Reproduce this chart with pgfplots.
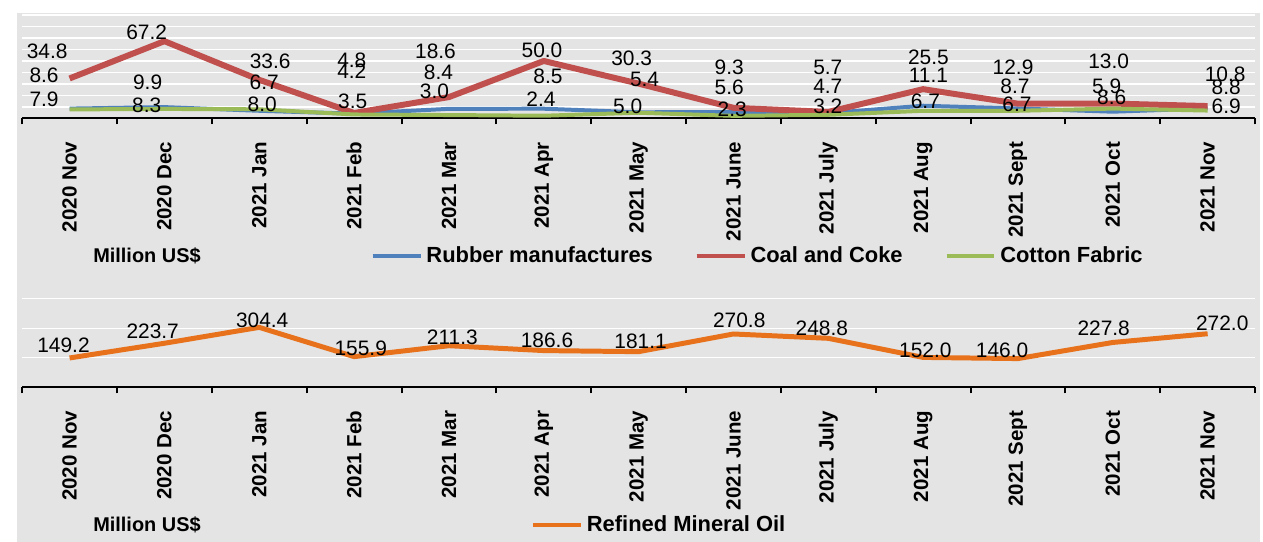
\documentclass[border=0pt]{standalone}
\usepackage{pgfplots}
\pgfplotsset{compat=1.18}
\usepackage{pgfplotstable}
\usepackage{fontspec}
\setmainfont{Liberation Sans}
\definecolor{panel}{HTML}{E4E4E4}
\definecolor{rubber}{HTML}{4F81BD}
\definecolor{coal}{HTML}{C0504D}
\definecolor{cotton}{HTML}{9BBB59}
\definecolor{oil}{HTML}{E8721C}

\pgfplotstableread{
x rubber coal cotton oil
0 8.6 34.8 7.9 149.2
1 9.9 67.2 8.3 223.7
2 6.7 33.6 8.0 304.4
3 4.2 4.8 3.5 155.9
4 8.4 18.6 3.0 211.3
5 8.5 50.0 2.4 186.6
6 5.4 30.3 5.0 181.1
7 5.6 9.3 2.3 270.8
8 4.7 5.7 3.2 248.8
9 11.1 25.5 6.7 152.0
10 8.7 12.9 6.7 146.0
11 5.9 13.0 8.6 227.8
12 8.8 10.8 6.9 272.0
}\datatable

\pgfplotstableread{
x y lab
-0.237 58.0 34.8
-0.269 37.2 8.6
-0.269 16.4 7.9
0.813 75.3 67.2
0.823 31.1 9.9
0.813 11.2 8.3
2.115 49.3 33.6
2.052 31.1 6.7
2.031 12.1 8.0
2.976 51.0 4.8
2.976 40.7 4.2
2.986 14.7 3.5
3.858 58.0 18.6
3.889 39.8 8.4
3.847 23.4 3.0
4.981 59.7 50.0
5.044 36.3 8.5
4.971 16.4 2.4
5.927 51.9 30.3
6.063 33.7 5.4
5.884 10.4 5.0
6.956 44.1 9.3
6.956 26.8 5.6
6.987 7.8 2.3
7.995 44.1 5.7
7.995 27.7 4.7
7.995 10.4 3.2
9.056 52.8 25.5
9.056 37.2 11.1
9.024 14.7 6.7
9.948 44.1 12.9
9.969 27.7 8.7
9.990 12.1 6.7
10.956 49.3 13.0
10.935 27.7 5.9
10.988 18.2 8.6
12.185 38.1 10.8
12.196 26.8 8.8
12.196 10.4 6.9
}\toplabels

\pgfplotstableread{
x y lab
-0.064 212 149.2
0.876 283 223.7
2.031 338 304.4
3.070 197 155.9
4.036 253 211.3
5.034 237 186.6
6.021 232 181.1
7.061 338 270.8
7.932 298 248.8
9.024 187 152.0
9.833 187 146.0
10.904 298 227.8
12.154 323 272.0
}\botlabels

\pgfplotsset{
  panelaxis/.style={
    scale only axis, width=619pt,
    xmin=-0.5, xmax=12.5, ymin=0,
    axis x line*=bottom, axis y line*=left,
    y axis line style={draw=none},
    x axis line style={-, black, line width=1pt},
    xtick={0,...,12},
    xticklabels={2020 Nov,2020 Dec,2021 Jan,2021 Feb,2021 Mar,2021 Apr,2021 May,2021 June,2021 July,2021 Aug,2021 Sept,2021 Oct,2021 Nov},
    major x tick style={draw=none},
    minor xtick={-0.5,0.5,...,12.5},
    minor x tick style={black, line width=1pt},
    minor tick length=3pt,
    tick align=outside,
    xticklabel style={rotate=90, anchor=east, font=\bfseries\fontsize{10.3}{12}\selectfont},
    xticklabel shift=4pt,
    yticklabels={}, major y tick style={draw=none},
    ymajorgrids, grid style={white, line width=0.6pt},
    clip=false,
    legend style={draw=none, fill=none, inner sep=0pt, outer sep=0pt,
      font=\bfseries\fontsize{11}{13}\selectfont,
      /tikz/every even column/.append style={column sep=19pt}},
    legend cell align=left,
    legend image code/.code={\draw[#1, line width=2pt] (0pt,0pt) -- (24pt,0pt);},
  },
  labelplot/.style={only marks, mark=none, nodes near coords, point meta=explicit symbolic,
    nodes near coords style={anchor=center, inner sep=0pt, text=black, font=\fontsize{10.5}{12}\selectfont},
    forget plot},
}

\begin{document}
\begin{tikzpicture}
\fill[white] (0pt,0pt) rectangle (631.5pt,272pt);
\fill[panel] (6pt,0pt) rectangle (630pt,265.5pt);

\begin{axis}[panelaxis, at={(8.5pt,212.5pt)}, anchor=south west,
  height=52pt, ymax=90, ytick={0,10,...,90},
  legend columns=3,
  legend style={at={(0.2827,-1.327)}, anchor=west}]
\addplot[rubber, line width=2pt, line join=round] table[x=x, y=rubber] {\datatable};
\addlegendentry{Rubber manufactures}
\addplot[coal, line width=3pt, line join=round] table[x=x, y=coal] {\datatable};
\addlegendentry{Coal and Coke}
\addplot[cotton, line width=2pt, line join=round] table[x=x, y=cotton] {\datatable};
\addlegendentry{Cotton Fabric}
\addplot[labelplot] table[x=x, y=y, meta=lab] {\toplabels};
\end{axis}

\begin{axis}[panelaxis, at={(8.5pt,77.5pt)}, anchor=south west,
  height=49.5pt, ymax=500, ytick={0,150,300,450},
  legend style={at={(0.4128,-1.394)}, anchor=west}]
\addplot[oil, line width=2.5pt, line join=round] table[x=x, y=oil] {\datatable};
\addlegendentry{Refined Mineral Oil}
\addplot[labelplot] table[x=x, y=y, meta=lab] {\botlabels};
\end{axis}

\node[anchor=west, inner sep=0pt, font=\bfseries\fontsize{10}{12}\selectfont] at (44pt,143.5pt) {Million US\$};
\node[anchor=west, inner sep=0pt, font=\bfseries\fontsize{10}{12}\selectfont] at (44pt,8.5pt) {Million US\$};
\end{tikzpicture}
\end{document}
